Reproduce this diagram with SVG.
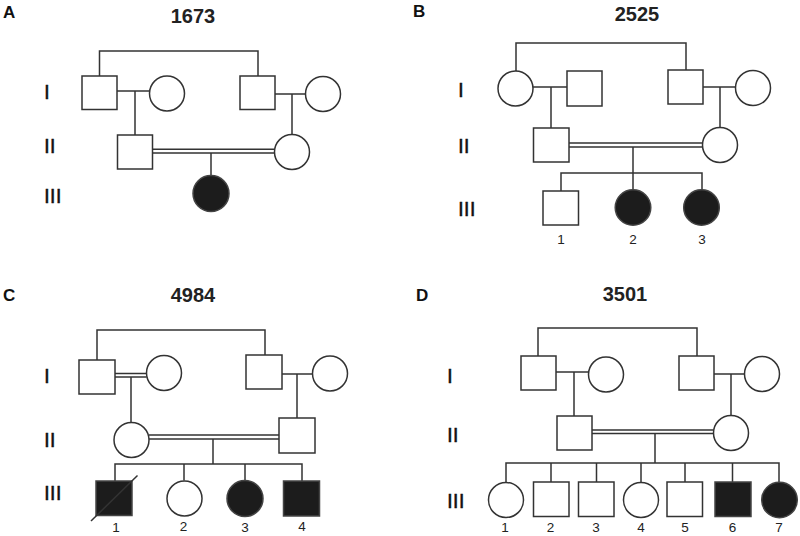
<svg xmlns="http://www.w3.org/2000/svg" width="800" height="536" viewBox="0 0 800 536">
<style>
.bg{fill:#fff}
.ln{stroke:#333;stroke-width:1.5;fill:none}
.nd{stroke:#333;stroke-width:1.5;fill:#fff}
.af{stroke:#444;stroke-width:1.5;fill:#1c1c1c}
.lbl{font-family:"Liberation Sans",Arial,sans-serif;font-weight:bold;font-size:17px;fill:#111}
.ttl{font-family:"Liberation Sans",Arial,sans-serif;font-weight:bold;font-size:20px;fill:#222;text-anchor:middle}
.gen{font-family:"Liberation Sans",Arial,sans-serif;font-size:21px;fill:#111;stroke:#111;stroke-width:0.4}
.num{font-family:"Liberation Sans",Arial,sans-serif;font-size:13.5px;fill:#222;text-anchor:middle}
</style>
<rect class="bg" x="0" y="0" width="800" height="536"/>

<!-- Panel A -->
<g id="panelA">
  <text class="lbl" x="3" y="18">A</text>
  <text class="ttl" x="193" y="23">1673</text>
  <text class="gen" x="44" y="99">I</text>
  <text class="gen" x="44" y="153">II</text>
  <text class="gen" x="44" y="203">III</text>
  <g id="A-connectors">
    <path class="ln" d="M99.5,76 V51 H258 V76"/>
    <path class="ln" d="M117,91 H149.5 M135,91 V135"/>
    <path class="ln" d="M275,94 H305.5 M292,94 V134.5"/>
    <path class="ln" d="M152.5,149.3 H274.5 M152.5,153 H274.5 M211,153 V175.5"/>
  </g>
  <g id="A-I-1"><rect class="nd" x="82" y="76" width="35" height="33.5"/></g>
  <g id="A-I-2"><circle class="nd" cx="167" cy="93.5" r="17.5"/></g>
  <g id="A-I-3"><rect class="nd" x="240" y="76" width="35" height="33.5"/></g>
  <g id="A-I-4"><circle class="nd" cx="323" cy="94" r="17.5"/></g>
  <g id="A-II-1"><rect class="nd" x="117.5" y="135" width="35" height="34"/></g>
  <g id="A-II-2"><circle class="nd" cx="292" cy="152" r="17.5"/></g>
  <g id="A-III-1"><circle class="af" cx="211" cy="193.5" r="18"/></g>
</g>

<!-- Panel B -->
<g id="panelB">
  <text class="lbl" x="413" y="17">B</text>
  <text class="ttl" x="637" y="21">2525</text>
  <text class="gen" x="458" y="97">I</text>
  <text class="gen" x="458" y="153">II</text>
  <text class="gen" x="458" y="216">III</text>
  <g id="B-connectors">
    <path class="ln" d="M516,71 V43 H686 V70"/>
    <path class="ln" d="M533,87 H567 M551,87 V128"/>
    <path class="ln" d="M703,87 H735.5 M720,87 V127.5"/>
    <path class="ln" d="M569,143 H702.5 M569,147 H702.5 M633,147 V173"/>
    <path class="ln" d="M561,191 V173 H702 V190 M633,173 V190"/>
  </g>
  <g id="B-I-1"><circle class="nd" cx="515.5" cy="88.5" r="17.5"/></g>
  <g id="B-I-2"><rect class="nd" x="567" y="71" width="35" height="35"/></g>
  <g id="B-I-3"><rect class="nd" x="668" y="70" width="35" height="34"/></g>
  <g id="B-I-4"><circle class="nd" cx="753" cy="88" r="17.5"/></g>
  <g id="B-II-1"><rect class="nd" x="533.5" y="128" width="35.5" height="34"/></g>
  <g id="B-II-2"><circle class="nd" cx="720" cy="145" r="17.5"/></g>
  <g id="B-III-1"><rect class="nd" x="543" y="191" width="35.5" height="34"/><text class="num" x="561" y="244">1</text></g>
  <g id="B-III-2"><circle class="af" cx="633" cy="207.5" r="17.8"/><text class="num" x="633" y="244">2</text></g>
  <g id="B-III-3"><circle class="af" cx="701.5" cy="207.5" r="17.8"/><text class="num" x="702" y="244">3</text></g>
</g>

<!-- Panel C -->
<g id="panelC">
  <text class="lbl" x="3" y="301">C</text>
  <text class="ttl" x="193" y="302">4984</text>
  <text class="gen" x="44" y="383">I</text>
  <text class="gen" x="44" y="447">II</text>
  <text class="gen" x="44" y="500">III</text>
  <g id="C-connectors">
    <path class="ln" d="M97,360 V330 H265 V355"/>
    <path class="ln" d="M115,373.5 H146.5 M115,377 H146.5 M131,377 V422.5"/>
    <path class="ln" d="M282,374 H312.5 M297,374 V418"/>
    <path class="ln" d="M149,435 H279 M149,439 H279 M213,439 V464"/>
    <path class="ln" d="M115,481 V464 H302 V481 M184,464 V480.5 M245,464 V480"/>
  </g>
  <g id="C-I-1"><rect class="nd" x="79" y="360" width="36" height="34"/></g>
  <g id="C-I-2"><circle class="nd" cx="164" cy="373" r="17.5"/></g>
  <g id="C-I-3"><rect class="nd" x="246" y="355" width="36" height="34"/></g>
  <g id="C-I-4"><circle class="nd" cx="330" cy="373.5" r="17.5"/></g>
  <g id="C-II-1"><circle class="nd" cx="131.5" cy="440" r="17.5"/></g>
  <g id="C-II-2"><rect class="nd" x="279" y="418" width="36" height="35"/></g>
  <g id="C-III-1"><rect class="af" x="96" y="481" width="36" height="34.5"/><path class="ln" d="M91,521 L137.5,475.5"/><text class="num" x="116" y="532">1</text></g>
  <g id="C-III-2"><circle class="nd" cx="184.5" cy="498.5" r="17.5"/><text class="num" x="183.5" y="531">2</text></g>
  <g id="C-III-3"><circle class="af" cx="245" cy="498.5" r="18"/><text class="num" x="245" y="532">3</text></g>
  <g id="C-III-4"><rect class="af" x="283.5" y="481" width="36" height="35"/><text class="num" x="302" y="531">4</text></g>
</g>

<!-- Panel D -->
<g id="panelD">
  <text class="lbl" x="416" y="301">D</text>
  <text class="ttl" x="625" y="301">3501</text>
  <text class="gen" x="447" y="383">I</text>
  <text class="gen" x="447" y="442">II</text>
  <text class="gen" x="447" y="508">III</text>
  <g id="D-connectors">
    <path class="ln" d="M538,356 V328 H697 V356"/>
    <path class="ln" d="M556,372 H588.5 M574,372 V416"/>
    <path class="ln" d="M714,374 H744.5 M731,374 V415.5"/>
    <path class="ln" d="M592,430 H713.5 M592,433.5 H713.5 M655,433.5 V463"/>
    <path class="ln" d="M506,482.5 V463 H779 V482 M551,463 V482 M596.5,463 V482 M641,463 V482.5 M685,463 V482 M732.5,463 V482"/>
  </g>
  <g id="D-I-1"><rect class="nd" x="521" y="356" width="35" height="34"/></g>
  <g id="D-I-2"><circle class="nd" cx="606" cy="374.5" r="17.5"/></g>
  <g id="D-I-3"><rect class="nd" x="679" y="356" width="35" height="34"/></g>
  <g id="D-I-4"><circle class="nd" cx="762" cy="374" r="17.5"/></g>
  <g id="D-II-1"><rect class="nd" x="557" y="416" width="35" height="34"/></g>
  <g id="D-II-2"><circle class="nd" cx="731" cy="433" r="17.5"/></g>
  <g id="D-III-1"><circle class="nd" cx="506" cy="500" r="17.5"/><text class="num" x="505" y="532">1</text></g>
  <g id="D-III-2"><rect class="nd" x="533.5" y="482" width="35.5" height="34.5"/><text class="num" x="550.5" y="532">2</text></g>
  <g id="D-III-3"><rect class="nd" x="578.5" y="482" width="35.5" height="34.5"/><text class="num" x="596" y="532">3</text></g>
  <g id="D-III-4"><circle class="nd" cx="641" cy="500" r="17.5"/><text class="num" x="641" y="532">4</text></g>
  <g id="D-III-5"><rect class="nd" x="667" y="482" width="35.5" height="34.5"/><text class="num" x="685" y="532">5</text></g>
  <g id="D-III-6"><rect class="af" x="715" y="482" width="36" height="34.5"/><text class="num" x="732.5" y="532">6</text></g>
  <g id="D-III-7"><circle class="af" cx="779.5" cy="500" r="17.8"/><text class="num" x="779" y="532">7</text></g>
</g>
</svg>
